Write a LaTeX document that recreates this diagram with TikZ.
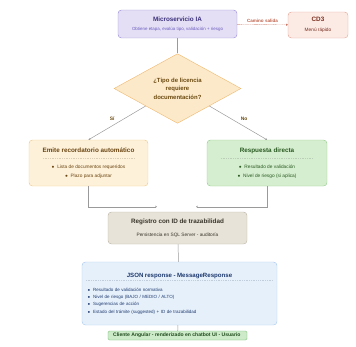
\documentclass[tikz,border=0pt]{standalone}
\usepackage{fontspec}
\setsansfont{Liberation Sans}
\usetikzlibrary{shapes.geometric, arrows.meta, positioning, calc}
\definecolor{iafill}{HTML}{E4DFF5}
\definecolor{iadraw}{HTML}{9D8FD9}
\definecolor{iatext}{HTML}{3B2F7A}
\definecolor{iasub}{HTML}{6C5CC0}
\definecolor{cdfill}{HTML}{FCEAE5}
\definecolor{cddraw}{HTML}{E4A696}
\definecolor{cdtext}{HTML}{7A2E1E}
\definecolor{qfill}{HTML}{FCE9C9}
\definecolor{qdraw}{HTML}{F0B970}
\definecolor{qtext}{HTML}{6B4A10}
\definecolor{autofill}{HTML}{FDF1DA}
\definecolor{autodraw}{HTML}{EFC98A}
\definecolor{autotext}{HTML}{6B4510}
\definecolor{okfill}{HTML}{D5EECF}
\definecolor{okdraw}{HTML}{97CC8F}
\definecolor{oktext}{HTML}{2A5A22}
\definecolor{regfill}{HTML}{E8E3D8}
\definecolor{regdraw}{HTML}{BDB5A7}
\definecolor{regtext}{HTML}{3A352C}
\definecolor{jsonfill}{HTML}{E6F0FB}
\definecolor{jsondraw}{HTML}{A9C9EE}
\definecolor{jsontext}{HTML}{1E3A6E}
\definecolor{uifill}{HTML}{CDEBC9}
\definecolor{uidraw}{HTML}{6DB96B}
\definecolor{uitext}{HTML}{1F4A1C}
\definecolor{linkgray}{HTML}{9A9A9A}
\definecolor{fastline}{HTML}{C0604A}
\newcommand{\boxtitle}[1]{{\fontsize{9}{10}\selectfont\bfseries #1}}
\newcommand{\boxsub}[1]{{\fontsize{6.8}{10}\selectfont #1}}
\tikzset{
  font=\sffamily,
  baseblock/.style={
    rectangle, rounded corners=5pt, line width=0.6pt,
    align=center, inner sep=2pt,
    font=\sffamily\fontsize{6.8}{10}\selectfont
  },
  iablock/.style={baseblock, draw=iadraw, fill=iafill, text=iatext},
  cacheblock/.style={baseblock, draw=cddraw, fill=cdfill, text=cdtext},
  autoblock/.style={baseblock, draw=autodraw, fill=autofill, text=autotext},
  okblock/.style={baseblock, draw=okdraw, fill=okfill, text=oktext},
  regblock/.style={baseblock, draw=regdraw, fill=regfill, text=regtext},
  jsonblock/.style={baseblock, draw=jsondraw, fill=jsonfill, text=jsontext},
  uiblock/.style={baseblock, draw=uidraw, fill=uifill, text=uitext},
  decisionblock/.style={
    diamond, draw=qdraw, fill=qfill, text=qtext, line width=0.6pt,
    inner sep=0pt, align=center,
    font=\sffamily\bfseries\fontsize{8.5}{12}\selectfont
  },
  sepline/.style={dotted, line width=0.5pt},
  flowline/.style={
    draw=linkgray, line width=0.7pt, -{Stealth[length=2.5pt, width=3pt]}
  },
  plainline/.style={draw=linkgray, line width=0.7pt},
  fastflow/.style={
    draw=fastline, line width=0.6pt, densely dotted,
    -{Stealth[length=2.5pt, width=3pt]}
  },
  branchlabel/.style={text=qtext, font=\sffamily\bfseries\fontsize{7}{8}\selectfont}
}

\begin{document}
\begin{tikzpicture}[x=0.05cm, y=-0.05cm]
  \useasboundingbox (0,0) rectangle (356,346);

  % Entry: AI microservice and cache shortcut
  \node[iablock, minimum width=5.95cm, minimum height=1.4cm] (ia) at (177.5,24) {
    \boxtitle{Microservicio IA}\\[2.8pt]
    {\color{iasub}\fontsize{6.3}{10}\selectfont Obtiene etapa, evalúa tipo, validación + riesgo}
  };
  \node[cacheblock, minimum width=3cm, minimum height=1.3cm] (cd3) at (318,25) {
    \boxtitle{CD3}\\[5pt]
    \boxsub{Menú rápido}
  };

  % Decision
  \node[decisionblock, minimum width=6.35cm, minimum height=3.15cm] (q) at (177.5,88.5) {
    ¿Tipo de licencia\\requiere\\documentación?
  };

  % Branches
  \node[autoblock, minimum width=5.95cm, minimum height=2.3cm] (emite) at (88.5,163) {
    \boxtitle{Emite recordatorio automático}\\[12.7pt]
    $\bullet$\ \ Lista de documentos requeridos\\[2.8pt]
    $\bullet$\ \ Plazo para adjuntar
  };
  \node[okblock, minimum width=6cm, minimum height=2.3cm] (directa) at (267,163) {
    \boxtitle{Respuesta directa}\\[12.7pt]
    $\bullet$\ \ Resultado de validación\\[2.8pt]
    $\bullet$\ \ Nivel de riesgo (si aplica)
  };
  \draw[sepline, draw=autodraw!60!gray!60] ($(emite.north west)+(14,18)$) -- ($(emite.north east)+(-14,18)$);
  \draw[sepline, draw=okdraw!60!gray!60] ($(directa.north west)+(14,18)$) -- ($(directa.north east)+(-14,18)$);

  % Trace log
  \node[regblock, minimum width=6.95cm, minimum height=1.6cm] (reg) at (177.5,228) {
    \boxtitle{Registro con ID de trazabilidad}\\[8pt]
    Persistencia en SQL Server - auditoría
  };
  \coordinate (regL) at ($(reg.north)+(-20.5,-5)$);
  \coordinate (regR) at ($(reg.north)+(18.5,-5)$);

  % Response
  \node[jsonblock, minimum width=9.75cm, minimum height=3.15cm, text width=9.2cm, align=left,
        font=\sffamily\fontsize{6.4}{10.3}\selectfont] (json) at (179.5,293.5) {
    \null\hfill{\fontsize{8.7}{10}\selectfont\bfseries JSON response - MessageResponse}\hfill\null\\[9.7pt]
    $\bullet$\ \ Resultado de validación normativa\\
    $\bullet$\ \ Nivel de riesgo (BAJO / MEDIO / ALTO)\\
    $\bullet$\ \ Sugerencias de acción\\
    $\bullet$\ \ Estado del trámite (suggested) + ID de trazabilidad
  };
  \draw[sepline, draw=jsondraw!60!gray!60] ($(json.north west)+(4,18)$) -- ($(json.north east)+(-4,18)$);

  \node[uiblock, rounded corners=2pt, minimum width=6.95cm, minimum height=0.45cm, inner sep=1pt,
        font=\sffamily\bfseries\fontsize{7.2}{8}\selectfont] (front) at (177.5,335.5) {
    Cliente Angular - renderizado en chatbot UI - Usuario
  };

  % Flows
  \draw[plainline] (ia) -- (q);
  \draw[fastflow] (ia) -- node[above, text=fastline, font=\sffamily\bfseries\fontsize{6.5}{7}\selectfont] {Camino salida} (cd3);
  \draw[flowline] (q.south west) -- node[above left, branchlabel] {Sí} (emite.north);
  \draw[flowline] (q.south east) -- node[above right, branchlabel] {No} (directa.north);
  \draw[flowline] (emite.south) |- (regL);
  \draw[flowline] (directa.south) |- (regR);
  \draw[plainline] (reg) -- (json);
  \draw[plainline] (json) -- (front);

\end{tikzpicture}
\end{document}
